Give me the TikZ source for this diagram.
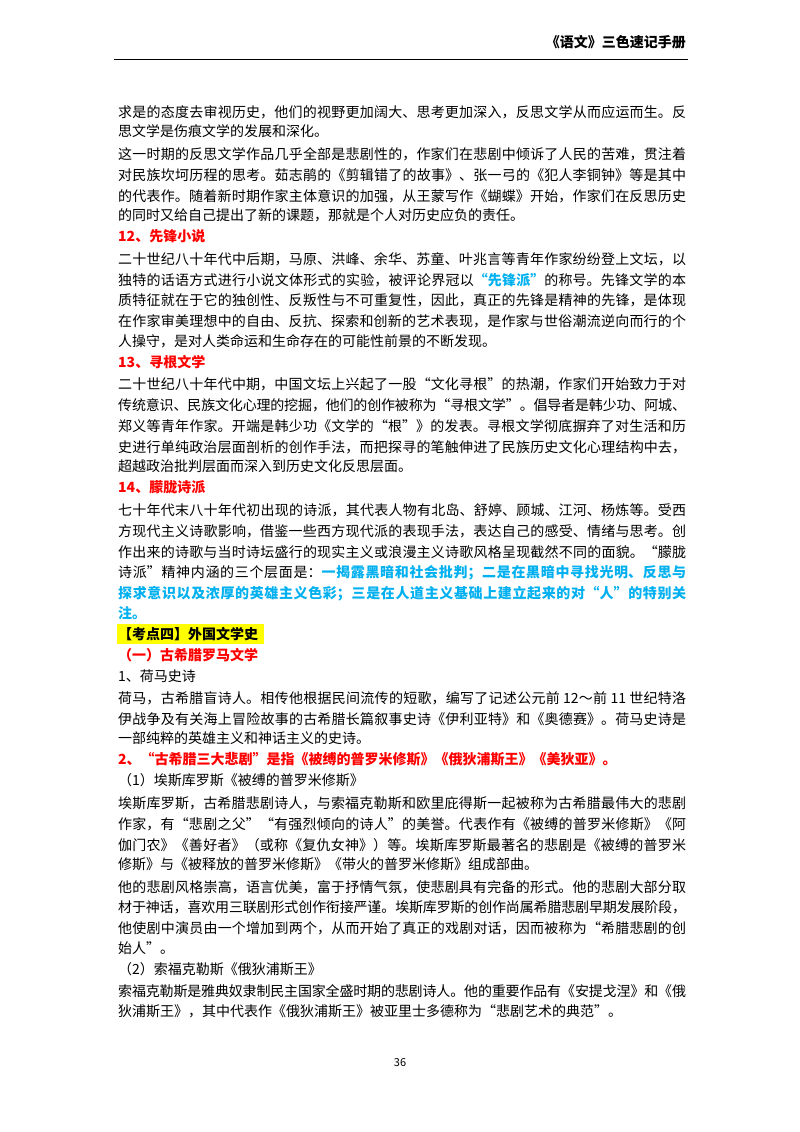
\documentclass[tikz,border=0pt]{standalone}
\usepackage{fontspec}
\setmainfont{Noto Sans CJK SC}
\usetikzlibrary{calc}
\definecolor{hred}{HTML}{FF0000}
\definecolor{hblue}{HTML}{00B0F0}
\definecolor{hyel}{HTML}{FFFF00}
\XeTeXlinebreaklocale "zh"
\XeTeXlinebreakskip=0pt plus 3pt minus 0.3pt
\newcommand\fl[2]{\node[txt] at (118,{116+(#1-1)*20.93}) {\parbox{568pt}{\parfillskip=0pt\relax #2}};}
\newcommand\pl[2]{\node[txt] at (118,{116+(#1-1)*20.93}) {#2};}
\newcommand\R[1]{\textcolor{hred}{\textbf{#1}}}
\newcommand\B[1]{\textcolor{hblue}{\textbf{#1}}}
\begin{document}
\begin{tikzpicture}[x=1pt,y=-1pt,txt/.style={anchor=base west,inner sep=0pt,font=\fontsize{14}{16}\selectfont}]
\useasboundingbox (0,0) rectangle (800,1132);
\fill[white] (0,0) rectangle (800,1132);
\node[anchor=base east,inner sep=0pt,font=\fontsize{14}{16}\selectfont\bfseries] (hdr) at (686,48) {《语文》三色速记手册};
\draw[line width=0.8pt] (114,59) -- (688,59);
\fill[hyel] (117,{116+25*20.93-15}) rectangle (264,{116+25*20.93+5});
\fl{1}{求是的态度去审视历史，他们的视野更加阔大、思考更加深入，反思文学从而应运而生。反}
\pl{2}{思文学是伤痕文学的发展和深化。}
\fl{3}{这一时期的反思文学作品几乎全部是悲剧性的，作家们在悲剧中倾诉了人民的苦难，贯注着}
\fl{4}{对民族坎坷历程的思考。茹志鹃的《剪辑错了的故事》、张一弓的《犯人李铜钟》等是其中}
\fl{5}{的代表作。随着新时期作家主体意识的加强，从王蒙写作《蝴蝶》开始，作家们在反思历史}
\pl{6}{的同时又给自己提出了新的课题，那就是个人对历史应负的责任。}
\pl{7}{\R{12、先锋小说}}
\fl{8}{二十世纪八十年代中后期，马原、洪峰、余华、苏童、叶兆言等青年作家纷纷登上文坛，以}
\fl{9}{独特的话语方式进行小说文体形式的实验，被评论界冠以\B{“先锋派”}的称号。先锋文学的本}
\fl{10}{质特征就在于它的独创性、反叛性与不可重复性，因此，真正的先锋是精神的先锋，是体现}
\fl{11}{在作家审美理想中的自由、反抗、探索和创新的艺术表现，是作家与世俗潮流逆向而行的个}
\pl{12}{人操守，是对人类命运和生命存在的可能性前景的不断发现。}
\pl{13}{\R{13、寻根文学}}
\fl{14}{二十世纪八十年代中期，中国文坛上兴起了一股“文化寻根”的热潮，作家们开始致力于对}
\fl{15}{传统意识、民族文化心理的挖掘，他们的创作被称为“寻根文学”。倡导者是韩少功、阿城、}
\fl{16}{郑义等青年作家。开端是韩少功《文学的“根”》的发表。寻根文学彻底摒弃了对生活和历}
\fl{17}{史进行单纯政治层面剖析的创作手法，而把探寻的笔触伸进了民族历史文化心理结构中去，}
\pl{18}{超越政治批判层面而深入到历史文化反思层面。}
\pl{19}{\R{14、朦胧诗派}}
\fl{20}{七十年代末八十年代初出现的诗派，其代表人物有北岛、舒婷、顾城、江河、杨炼等。受西}
\fl{21}{方现代主义诗歌影响，借鉴一些西方现代派的表现手法，表达自己的感受、情绪与思考。创}
\fl{22}{作出来的诗歌与当时诗坛盛行的现实主义或浪漫主义诗歌风格呈现截然不同的面貌。“朦胧}
\fl{23}{诗派”精神内涵的三个层面是：\B{一揭露黑暗和社会批判；二是在黑暗中寻找光明、反思与}}
\fl{24}{\B{探求意识以及浓厚的英雄主义色彩；三是在人道主义基础上建立起来的对“人”的特别关}}
\pl{25}{\B{注。}}
\pl{26}{\textbf{【考点四】外国文学史}}
\pl{27}{\R{（一）古希腊罗马文学}}
\pl{28}{1、荷马史诗}
\fl{29}{荷马，古希腊盲诗人。相传他根据民间流传的短歌，编写了记述公元前 12～前 11 世纪特洛}
\fl{30}{伊战争及有关海上冒险故事的古希腊长篇叙事史诗《伊利亚特》和《奥德赛》。荷马史诗是}
\pl{31}{一部纯粹的英雄主义和神话主义的史诗。}
\pl{32}{\R{2、“古希腊三大悲剧”是指《被缚的普罗米修斯》《俄狄浦斯王》《美狄亚》。}}
\pl{33}{（1）埃斯库罗斯《被缚的普罗米修斯》}
\fl{34}{埃斯库罗斯，古希腊悲剧诗人，与索福克勒斯和欧里庇得斯一起被称为古希腊最伟大的悲剧}
\fl{35}{作家，有“悲剧之父”“有强烈倾向的诗人”的美誉。代表作有《被缚的普罗米修斯》《阿}
\fl{36}{伽门农》《善好者》（或称《复仇女神》）等。埃斯库罗斯最著名的悲剧是《被缚的普罗米}
\pl{37}{修斯》与《被释放的普罗米修斯》《带火的普罗米修斯》组成部曲。}
\fl{38}{他的悲剧风格崇高，语言优美，富于抒情气氛，使悲剧具有完备的形式。他的悲剧大部分取}
\fl{39}{材于神话，喜欢用三联剧形式创作衔接严谨。埃斯库罗斯的创作尚属希腊悲剧早期发展阶段，}
\fl{40}{他使剧中演员由一个增加到两个，从而开始了真正的戏剧对话，因而被称为“希腊悲剧的创}
\pl{41}{始人”。}
\pl{42}{（2）索福克勒斯《俄狄浦斯王》}
\fl{43}{索福克勒斯是雅典奴隶制民主国家全盛时期的悲剧诗人。他的重要作品有《安提戈涅》和《俄}
\pl{44}{狄浦斯王》，其中代表作《俄狄浦斯王》被亚里士多德称为“悲剧艺术的典范”。}
\node[anchor=base,inner sep=0pt,font=\fontsize{11}{13}\selectfont] (pg) at (400,1066) {36};
\end{tikzpicture}
\end{document}
